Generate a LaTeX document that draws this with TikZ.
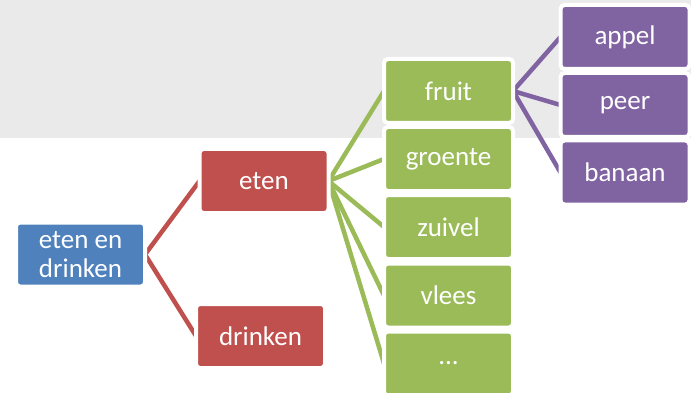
\documentclass[tikz,border=0pt]{standalone}
\usepackage{fontspec}
\setmainfont{Carlito}
\usetikzlibrary{backgrounds}
\definecolor{bgray}{HTML}{EAEAEA}
\definecolor{cblue}{HTML}{4F81BD}
\definecolor{cred}{HTML}{C0504D}
\definecolor{cgreen}{HTML}{9BBB59}
\definecolor{cpurple}{HTML}{8064A2}
\tikzset{
  box/.style={draw=white, line width=4pt, rounded corners=4pt, outer sep=0pt,
    minimum width=129pt, minimum height=64pt, inner sep=0pt, text=white,
    font=\fontsize{27}{29.5}\selectfont, align=center},
  bluebox/.style={box, fill=cblue},
  redbox/.style={box, fill=cred},
  greenbox/.style={box, fill=cgreen},
  purplebox/.style={box, fill=cpurple},
  conn/.style={line width=4.5pt}
}
\begin{document}
\begin{tikzpicture}[x=1pt,y=-1pt]
\useasboundingbox (0,0) rectangle (691,393);
\node[bluebox] (root) at (80.5,254.5) {eten en\\drinken};
\node[redbox] (eten) at (264,181) {eten};
\node[redbox] (drinken) at (260.5,336) {drinken};
\node[greenbox] (fruit) at (448.5,91) {fruit};
\node[greenbox] (groente) at (448.5,159) {groente};
\node[greenbox] (zuivel) at (448.5,227) {zuivel};
\node[greenbox] (vlees) at (448.5,295.5) {vlees};
\node[greenbox] (dots) at (448.5,363.5) {...};
\node[purplebox] (appel) at (625,37) {appel};
\node[purplebox] (peer) at (625,105) {peer};
\node[purplebox] (banaan) at (625,172.5) {banaan};
\begin{scope}[on background layer]
  \fill[bgray] (0,0) rectangle (691,138);
  \draw[conn, cred] (root.east) -- (eten.west);
  \draw[conn, cred] (root.east) -- (drinken.west);
  \foreach \c in {fruit,groente,zuivel,vlees,dots}
    \draw[conn, cgreen] (eten.east) -- (\c.west);
  \foreach \c in {appel,peer,banaan}
    \draw[conn, cpurple] (fruit.east) -- (\c.west);
\end{scope}
\end{tikzpicture}
\end{document}
